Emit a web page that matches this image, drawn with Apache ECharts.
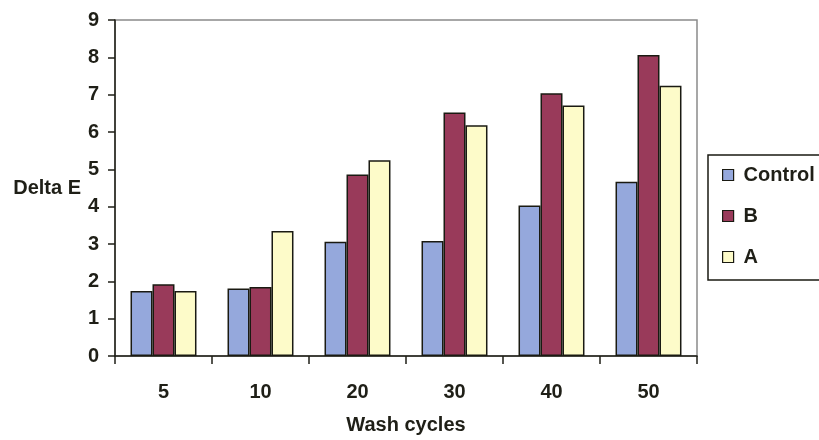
<!DOCTYPE html>
<html>
<head>
<meta charset="utf-8">
<script src="https://cdn.jsdelivr.net/npm/echarts@6/dist/echarts.min.js"></script>
<style>
  html, body { margin: 0; padding: 0; background: #ffffff; }
  #chart { width: 819px; height: 440px; }
</style>
</head>
<body>
<div id="chart"></div>
<script>
// Wash cycle counts along the x axis
const categories = ['5', '10', '20', '30', '40', '50'];

// Colour change (Delta E) after each number of washes
const controlValues = [1.74, 1.81, 3.06, 3.08, 4.03, 4.67];
const bValues = [1.92, 1.85, 4.86, 6.52, 7.04, 8.06];
const aValues = [1.74, 3.35, 5.24, 6.18, 6.71, 7.24];

const seriesNames = ['Control', 'B', 'A'];
const seriesColors = ['#95a8dc', '#993a5a', '#fdfbc9'];

const font = '"Liberation Sans", Arial, sans-serif';
const ink = '#1f1f17';

const chart = echarts.init(document.getElementById('chart'), null, { renderer: 'canvas' });

function barSeries(name, data, color) {
  return {
    name: name,
    type: 'bar',
    data: data,
    barGap: '0%',
    barCategoryGap: '32%',
    itemStyle: { color: color, borderColor: '#1a1a12', borderWidth: 1.5 }
  };
}

chart.setOption({
  backgroundColor: '#ffffff',
  animation: false,
  grid: {
    left: 115, right: 122, top: 20, bottom: 78,
    show: true,
    borderColor: '#8a8a8a',
    borderWidth: 1.5,
    backgroundColor: 'transparent'
  },
  legend: {
    orient: 'vertical',
    left: 708,
    top: 155,
    padding: [10, 40, 13, 14],
    itemGap: 21,
    itemWidth: 11,
    itemHeight: 11,
    itemStyle: { borderColor: '#1a1a12', borderWidth: 1.2 },
    borderColor: '#1a1a12',
    borderWidth: 1.5,
    backgroundColor: '#ffffff',
    textStyle: { fontFamily: font, fontWeight: 'bold', fontSize: 20, lineHeight: 20, color: ink, padding: [0, 0, 0, 5] },
    data: seriesNames.map(n => ({ name: n, icon: 'rect' }))
  },
  xAxis: {
    type: 'category',
    data: categories,
    name: 'Wash cycles',
    nameLocation: 'middle',
    nameGap: 59,
    nameTextStyle: { fontFamily: font, fontWeight: 'bold', fontSize: 20, color: ink },
    axisLine: { lineStyle: { color: ink, width: 1.5 } },
    axisTick: { show: true, length: 8, inside: false, lineStyle: { color: ink, width: 1.5 } },
    axisLabel: { margin: 26, fontFamily: font, fontWeight: 'bold', fontSize: 20, color: ink },
    splitLine: { show: false }
  },
  yAxis: {
    type: 'value',
    min: 0,
    max: 9,
    interval: 1,
    name: 'Delta E',
    nameLocation: 'middle',
    nameRotate: 0,
    nameGap: 34,
    nameTextStyle: { fontFamily: font, fontWeight: 'bold', fontSize: 20, color: ink, align: 'right', padding: [6, 0, 0, 0] },
    axisLine: { show: true, lineStyle: { color: ink, width: 1.5 } },
    axisTick: { show: true, length: 7, inside: false, lineStyle: { color: ink, width: 1.5 } },
    axisLabel: { margin: 16, fontFamily: font, fontWeight: 'bold', fontSize: 20, color: ink },
    splitLine: { show: false }
  },
  series: [
    barSeries(seriesNames[0], controlValues, seriesColors[0]),
    barSeries(seriesNames[1], bValues, seriesColors[1]),
    barSeries(seriesNames[2], aValues, seriesColors[2])
  ]
});
</script>
</body>
</html>
